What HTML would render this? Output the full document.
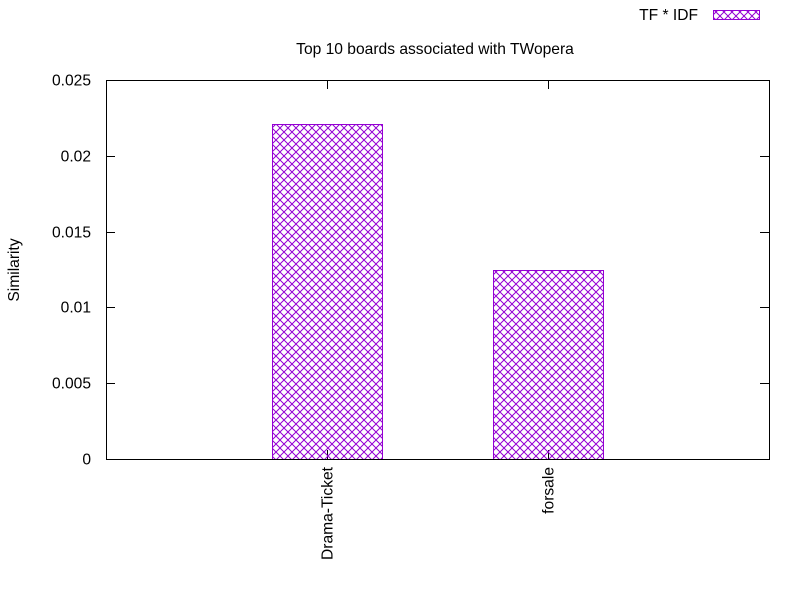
<!DOCTYPE html>
<html><head><meta charset="utf-8">
<style>
body{margin:0;background:#fff;}
svg{display:block;font-family:"Liberation Sans",sans-serif;font-size:15.6px;}
</style></head>
<body>
<svg id="chart" width="800" height="600" viewBox="0 0 800 600">
<defs>
<pattern id="hatch" patternUnits="userSpaceOnUse" width="8" height="8">
<path d="M0,0 L8,8 M8,0 L0,8" stroke="#9400d3" stroke-width="1" fill="none"/>
</pattern>
</defs>
<text x="435" y="54" text-anchor="middle">Top 10 boards associated with TWopera</text>
<text x="19" y="270" text-anchor="middle" transform="rotate(-90 19 270)">Similarity</text>
<g>
<text x="698" y="20" text-anchor="end">TF * IDF</text>
<rect x="713.5" y="10.5" width="46" height="9" fill="url(#hatch)" stroke="#9400d3"/>
</g>
<g id="axes"></g>
<g id="bars"></g>
<rect x="106.5" y="80.5" width="663" height="379" fill="none" stroke="#000"/>
</svg>
<script>
const categories = ["Drama-Ticket", "forsale"];
const values = [0.0221, 0.01247];
const yTicks = [0, 0.005, 0.01, 0.015, 0.02, 0.025];
const yTickLabels = ["0", "0.005", "0.01", "0.015", "0.02", "0.025"];

const L=106, R=769, T=80, B=459;
const yMax=0.025, xMin=-1, xMax=2, barW=0.5;
const ys=v=>B-(v/yMax)*(B-T);
const xs=i=>L+(i-xMin)/(xMax-xMin)*(R-L);
const NS="http://www.w3.org/2000/svg";
const axes=document.getElementById('axes');
const bars=document.getElementById('bars');
function mk(tag,attrs,parent){const e=document.createElementNS(NS,tag);for(const k in attrs)e.setAttribute(k,attrs[k]);parent.appendChild(e);return e;}

yTicks.forEach((t,i)=>{
  const y=Math.round(ys(t))+0.5;
  const l1=mk('line',{x1:L,x2:L+9,y1:y,y2:y,stroke:'#000'},axes);
  
  
  const l2=mk('line',{x1:R-9,x2:R,y1:y,y2:y,stroke:'#000'},axes);
  
  
  const tx=mk('text',{x:91,y:y+5,'text-anchor':'end'},axes);
  tx.textContent=yTickLabels[i];
  
  
});

categories.forEach((c,i)=>{
  const x0=Math.round(xs(i-barW/2))+0.5, x1=Math.round(xs(i+barW/2))+0.5;
  const y=Math.round(ys(values[i]))+0.5;
  const r=mk('rect',{x:x0,y:y,width:x1-x0,height:B-y+0.5,fill:'url(#hatch)',stroke:'#9400d3'},bars);
  
  
  const cx=Math.round(xs(i))+0.5;
  const tb=mk('line',{x1:cx,x2:cx,y1:B,y2:B-9,stroke:'#000'},axes);
  
  
  const tt=mk('line',{x1:cx,x2:cx,y1:T,y2:T+9,stroke:'#000'},axes);
  
  
  const tx=mk('text',{x:cx+5,y:467,'text-anchor':'end',transform:`rotate(-90 ${cx+5} 467)`},axes);
  tx.textContent=c;
  
  
});
</script>
</body></html>
